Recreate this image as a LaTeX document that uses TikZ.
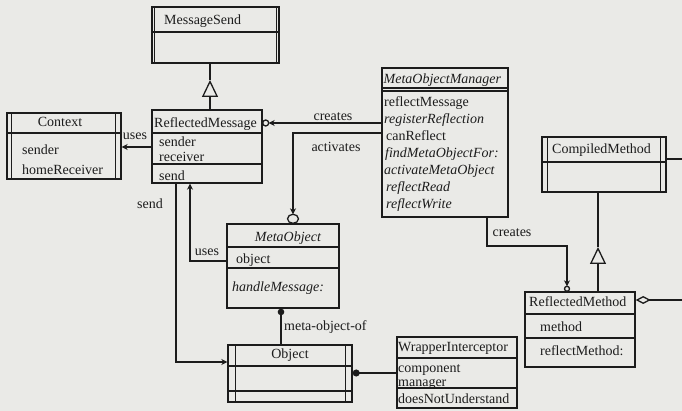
\documentclass[tikz,border=0pt]{standalone}
\usepackage{fontspec}
\setmainfont{Liberation Serif}
\usetikzlibrary{arrows.meta,calc}
\definecolor{bg}{RGB}{234,234,231}
\definecolor{ink}{RGB}{28,28,28}
\begin{document}
\begin{tikzpicture}[x=1pt,y=-1pt,
  box/.style={draw=ink, line width=1.4pt, inner sep=0pt},
  div/.style={draw=ink, line width=1.3pt},
  conn/.style={draw=ink, line width=1.3pt},
  txt/.style={anchor=west, inner sep=0pt, font=\fontsize{14}{16}\selectfont, text=ink, text height=9.8pt, text depth=2.6pt},
  itx/.style={txt, font=\fontsize{14}{16}\selectfont\itshape},
  lbl/.style={inner sep=0pt, font=\fontsize{14}{16}\selectfont, text=ink, text height=9.8pt, text depth=2.6pt},
  tip/.style={-{Stealth[length=6pt,width=6pt]}},
  gen/.style={-{Triangle[open,length=17pt,width=16pt]}}
]
\fill[bg] (0,0) rectangle (682,411);
\useasboundingbox (0,0) rectangle (682,411);

% ---------- boxes ----------
\node[box, minimum width=127pt, minimum height=56pt] (ms) at (215.5,35) {};
\draw[div] (ms.west |- 0,32) -- (ms.east |- 0,32);
\draw[div] ($(ms.north west)+(3,0)$) -- ($(ms.south west)+(3,0)$);
\draw[div] ($(ms.north east)+(-3,0)$) -- ($(ms.south east)+(-3,0)$);

\node[box, minimum width=114pt, minimum height=66pt] (ctx) at (64,146) {};
\draw[div] (ctx.west |- 0,133) -- (ctx.east |- 0,133);
\draw[div] ($(ctx.north west)+(5,0)$) -- ($(ctx.south west)+(5,0)$);
\draw[div] ($(ctx.north east)+(-6,0)$) -- ($(ctx.south east)+(-6,0)$);

\node[box, minimum width=110pt, minimum height=73pt] (rm) at (207,146.5) {};
\draw[div] (rm.west |- 0,133) -- (rm.east |- 0,133);
\draw[div] (rm.west |- 0,164) -- (rm.east |- 0,164);

\node[box, minimum width=126pt, minimum height=149pt] (mom) at (445,142.5) {};
\draw[div] (mom.west |- 0,88) -- (mom.east |- 0,88);
\draw[div] (mom.west |- 0,91) -- (mom.east |- 0,91);

\node[box, minimum width=112pt, minimum height=84pt] (mo) at (283,266) {};
\draw[div] (mo.west |- 0,247) -- (mo.east |- 0,247);
\draw[div] (mo.west |- 0,268) -- (mo.east |- 0,268);

\node[box, minimum width=124pt, minimum height=57pt] (obj) at (290,373.5) {};
\draw[div] (obj.west |- 0,366) -- (obj.east |- 0,366);
\draw[div] (obj.west |- 0,391) -- (obj.east |- 0,391);
\draw[div] ($(obj.north west)+(8,0)$) -- ($(obj.south west)+(8,0)$);
\draw[div] ($(obj.north east)+(-7,0)$) -- ($(obj.south east)+(-7,0)$);

\node[box, minimum width=120pt, minimum height=71pt] (wi) at (457,372.5) {};
\draw[div] (wi.west |- 0,358) -- (wi.east |- 0,358);
\draw[div] (wi.west |- 0,388) -- (wi.east |- 0,388);

\node[box, minimum width=124pt, minimum height=55pt] (cm) at (604,164.5) {};
\draw[div] (cm.west |- 0,162) -- (cm.east |- 0,162);
\draw[div] ($(cm.north west)+(6,0)$) -- ($(cm.south west)+(6,0)$);
\draw[div] ($(cm.north east)+(-6,0)$) -- ($(cm.south east)+(-6,0)$);

\node[box, minimum width=110pt, minimum height=75pt] (rmeth) at (580,329.5) {};
\draw[div] (rmeth.west |- 0,314) -- (rmeth.east |- 0,314);
\draw[div] (rmeth.west |- 0,338) -- (rmeth.east |- 0,338);

% ---------- texts ----------
\node[txt] (msT) at (164,21) {MessageSend};
\node[txt, anchor=center] (ctxT) at (60,123) {Context};
\node[txt] (ctxA1) at (22,151) {sender};
\node[txt] (ctxA2) at (22,171) {homeReceiver};
\node[txt] (rmT) at (154,124) {ReflectedMessage};
\node[txt] (rmA1) at (159,143) {sender};
\node[txt] (rmA2) at (159,158) {receiver};
\node[txt] (rmM1) at (159,177) {send};
\node[itx] (momT) at (383.5,80) {MetaObjectManager};
\node[txt] (momM1) at (384,103) {reflectMessage};
\node[itx] (momM2) at (384,120) {registerReflection};
\node[txt] (momM3) at (386,137) {canReflect};
\node[itx] (momM4) at (385,154) {findMetaObjectFor:};
\node[itx] (momM5) at (384,171) {activateMetaObject};
\node[itx] (momM6) at (386,188) {reflectRead};
\node[itx] (momM7) at (386,205) {reflectWrite};
\node[itx, anchor=center] (moT) at (288,238) {MetaObject};
\node[txt] (moA) at (236,260) {object};
\node[itx] (moM) at (232,288) {handleMessage:};
\node[txt, anchor=center] (objT) at (290,355) {Object};
\node[txt] (wiT) at (398,348) {WrapperInterceptor};
\node[txt] (wiA1) at (398,369) {component};
\node[txt] (wiA2) at (398,383) {manager};
\node[txt] (wiM) at (398,400) {doesNotUnderstand};
\node[txt] (cmT) at (552,150) {CompiledMethod};
\node[txt] (rmethT) at (529,303) {ReflectedMethod};
\node[txt] (rmethA) at (540,328) {method};
\node[txt] (rmethM) at (540,352) {reflectMethod:};

% ---------- connectors ----------
% generalisation ReflectedMessage -> MessageSend
\coordinate (g1) at (210,80);
\draw[conn, gen] (rm.north -| 210,0) -- (g1);
\draw[conn] (g1) -- (ms.south -| 210,0);

% uses: ReflectedMessage -> Context
\draw[conn, tip] (rm.west |- 0,147) -- (ctx.east |- 0,147);
\node[lbl] (l1) at (135,136) {uses};

% creates: MetaObjectManager -> ReflectedMessage
\draw[conn, tip] (mom.west |- 0,123) -- ($(rm.east |- 0,123)+(6,0)$);
\draw[conn] ($(rm.east |- 0,123)+(3,0)$) circle (3);
\node[lbl] (l2) at (333,117) {creates};

% activates: MetaObjectManager -> MetaObject
\draw[conn, tip] (mom.west |- 0,133) -| ($(mo.north -| 293,0)+(0,-9)$);
\draw[conn] ($(mo.north -| 293,0)+(0,-4.5)$) ellipse (5.5 and 4.5);
\node[lbl] (l3) at (336,148) {activates};

% uses: MetaObject -> ReflectedMessage
\draw[conn, tip] (mo.west |- 0,261) -| (rm.south -| 190,0);
\node[lbl] (l4) at (207,252) {uses};

% send: ReflectedMessage -> Object
\draw[conn, tip] (rm.south -| 176,0) |- (obj.west |- 0,362);
\node[lbl] (l5) at (150,205) {send};

% meta-object-of
\draw[conn, {Circle[length=6.5pt]}-] (mo.south -| 281,0) -- (obj.north -| 281,0);
\node[lbl, anchor=west] (l6) at (284,327) {meta-object-of};

% Object -- WrapperInterceptor
\draw[conn, {Circle[length=7pt]}-] (obj.east |- 0,373) -- (wi.west |- 0,373);

% generalisation ReflectedMethod -> CompiledMethod
\coordinate (g2) at (598,247);
\draw[conn, gen] (rmeth.north -| 598,0) -- (g2);
\draw[conn] (g2) -- (cm.south -| 598,0);

% creates: MetaObjectManager -> ReflectedMethod
\coordinate (b1) at (567,246);
\draw[conn, tip] (mom.south -| 487,0) |- (b1) -- ($(rmeth.north -| 567,0)+(0,-5)$);
\draw[conn] ($(rmeth.north -| 567,0)+(0,-2.5)$) circle (2.5);
\node[lbl] (l7) at (512,233) {creates};

% CompiledMethod right stub
\coordinate (cmR) at (682,159);
\draw[conn] (cm.east |- cmR) -- (cmR);

% ReflectedMethod aggregation stub
\coordinate (rmethR) at (682,300);
\draw[conn, {Diamond[open,length=15pt,width=8pt]}-] (rmeth.east |- rmethR) -- (rmethR);
\end{tikzpicture}
\end{document}
